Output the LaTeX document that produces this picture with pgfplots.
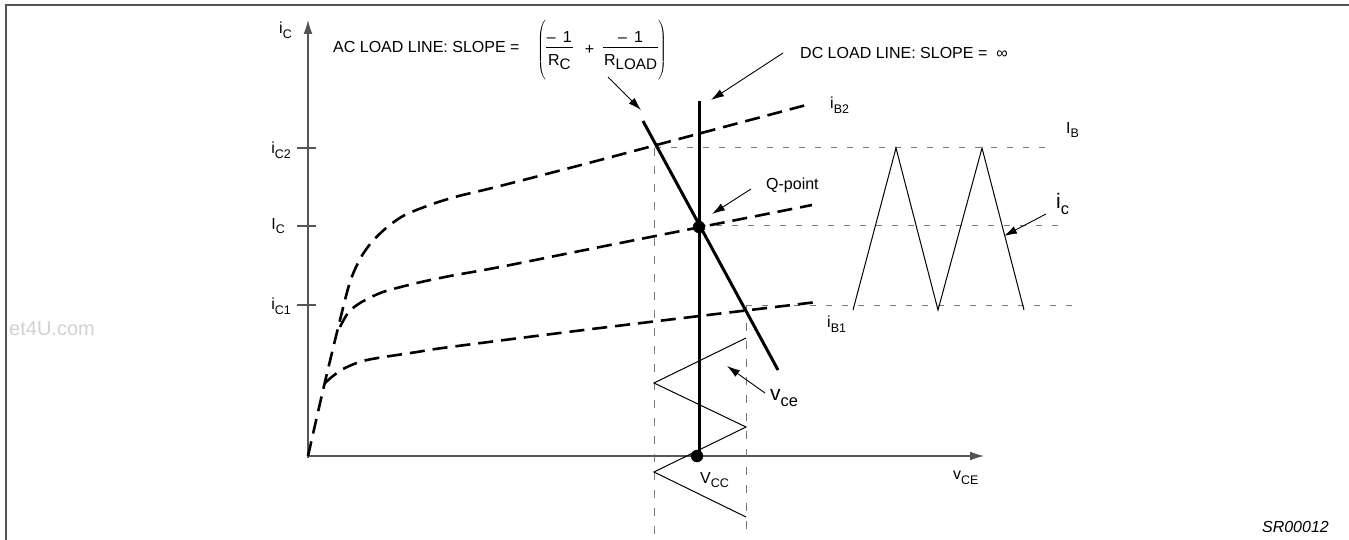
\documentclass[border=0pt]{standalone}
\usepackage{pgfplots}
\pgfplotsset{compat=1.18}
\usepackage{fontspec}
\setmainfont{Liberation Sans}
\usepackage{graphicx}
\usetikzlibrary{arrows.meta}
\newcommand{\sub}[1]{\raisebox{-0.3em}{\scalebox{0.78}{#1}}}
\newcommand{\subf}[1]{\raisebox{-0.28em}{\scalebox{0.95}{#1}}}
\newcommand{\fr}[2]{\begin{tabular}{@{\hspace{1pt}}c@{\hspace{1pt}}}#1\\[-1pt]\hline\rule{0pt}{18pt}#2\end{tabular}}
\definecolor{axgray}{HTML}{555555}
\definecolor{dgray}{HTML}{777777}
\tikzset{lbl/.style={font=\fontsize{16}{19}\selectfont, inner sep=0pt},
         big/.style={font=\fontsize{21}{25}\selectfont, inner sep=0pt}}
\begin{document}
\begin{tikzpicture}
\begin{axis}[at={(0,0)}, anchor=south west, width=1349pt, height=540pt, scale only axis,
  xmin=0, xmax=1349, ymin=0, ymax=540, y dir=reverse, hide axis, clip=false]
% frame
\addplot[axgray, line width=2pt] coordinates {(5.5,540) (5.5,5.5) (1349,5.5)};
% axes
\addplot[axgray, line width=1.3pt, -{Latex[length=14pt,width=9pt]}] coordinates {(308,458) (308,20)};
\addplot[axgray, line width=1.3pt, -{Latex[length=14pt,width=9pt]}] coordinates {(307,456) (984,456)};
% ticks
\addplot[axgray, line width=1.2pt] coordinates {(297,148) (316,148)};
\addplot[axgray, line width=1.2pt] coordinates {(297,226) (316,226)};
\addplot[axgray, line width=1.2pt] coordinates {(297,305) (316,305)};
% gray dashed guides
\addplot[dgray, line width=1pt, dash pattern=on 6pt off 10pt] coordinates {(655,148) (1055,148)};
\addplot[dgray, line width=1pt, dash pattern=on 6pt off 10pt] coordinates {(700,226) (1066,226)};
\addplot[dgray, line width=1pt, dash pattern=on 6pt off 10pt] coordinates {(746,305) (1072,305)};
\addplot[dgray, line width=1pt, dash pattern=on 8pt off 10pt] coordinates {(654,148) (654,535)};
\addplot[dgray, line width=1pt, dash pattern=on 8pt off 10pt] coordinates {(746,305) (746,535)};
% characteristic curves
\addplot[black, line width=2.6pt, dash pattern=on 15pt off 8pt, smooth] coordinates {
 (308,456) (324,386) (340,320) (350,282) (360,259) (371,243) (385,229) (403,216) (427,206) (455,197) (500,186) (600,160) (810,104)};
\addplot[black, line width=2.6pt, dash pattern=on 15pt off 8pt, smooth] coordinates {
 (340,327) (348,313) (360,303) (383,292) (417,283) (450,276) (500,267) (600,247) (812,205)};
\addplot[black, line width=2.6pt, dash pattern=on 15pt off 8pt, smooth] coordinates {
 (325,383) (333,376) (345,368) (367,360) (417,352) (450,347) (600,328) (817,302)};
% load lines
\addplot[black, line width=3pt] coordinates {(699,101) (699,455)};
\addplot[black, line width=3pt] coordinates {(643,121) (778,370)};
% waveforms
\addplot[black, line width=1pt] coordinates {(853,310) (896,148) (938,310) (982,148) (1024,310)};
\addplot[black, line width=1pt] coordinates {(746,338) (654,383) (746,427) (654,472) (746,517)};
% points
\addplot[only marks, mark=*, mark size=6pt, black] coordinates {(699,227) (697,456)};
% annotation arrows
\addplot[black, line width=0.9pt, -{Latex[length=13pt,width=8pt]}] coordinates {(608,77) (641,110)};
\addplot[black, line width=0.9pt, -{Latex[length=13pt,width=8pt]}] coordinates {(783,53) (711,100)};
\addplot[black, line width=0.9pt, -{Latex[length=13pt,width=8pt]}] coordinates {(751,189) (712,214)};
\addplot[black, line width=0.9pt, -{Latex[length=13pt,width=8pt]}] coordinates {(1046,214) (1004,236)};
\addplot[black, line width=0.9pt, -{Latex[length=13pt,width=8pt]}] coordinates {(765,393) (727,366)};
% labels
\node[lbl, anchor=west] at (axis cs:279,30) {i\sub{C}};
\node[lbl, anchor=east] at (axis cs:291,150) {i\sub{C2}};
\node[lbl, anchor=east] at (axis cs:285,226) {I\sub{C}};
\node[lbl, anchor=east] at (axis cs:291,306) {i\sub{C1}};
\node[lbl, anchor=west] at (axis cs:333,47) {AC LOAD LINE: SLOPE =};
\node[lbl, anchor=west] at (axis cs:537,50) {$\left(\vrule height 27pt depth 26pt width 0pt\mbox{\fr{–\hspace{7pt}1}{R\subf{C}}\hspace{12pt}+\hspace{9pt}\fr{–\hspace{7pt}1}{R\subf{LOAD}}}\right)$};
\node[lbl, anchor=west] at (axis cs:800,53) {DC LOAD LINE: SLOPE = \ ∞};
\node[lbl, anchor=west] at (axis cs:830,105) {i\sub{B2}};
\node[lbl, anchor=west] at (axis cs:1066,130) {I\sub{B}};
\node[lbl, anchor=west] at (axis cs:766,185) {Q-point};
\node[big, anchor=west] at (axis cs:1056,204) {i\sub{c}};
\node[lbl, anchor=west] at (axis cs:827,324) {i\sub{B1}};
\node[big, anchor=west] at (axis cs:770,398) {v\sub{ce}};
\node[lbl, anchor=west] at (axis cs:700,480) {V\sub{CC}};
\node[lbl, anchor=west] at (axis cs:953,478) {v\sub{CE}};
\node[lbl, anchor=east, font=\fontsize{16}{19}\selectfont\itshape] at (axis cs:1329,527) {SR00012};
\node[anchor=east, text=black!18, font=\fontsize{20}{24}\selectfont, inner sep=0pt] at (axis cs:95,329) {et4U.com};
\end{axis}
\pgfresetboundingbox
\path[use as bounding box] (0,0) rectangle (1349pt,540pt);
\end{tikzpicture}
\end{document}
